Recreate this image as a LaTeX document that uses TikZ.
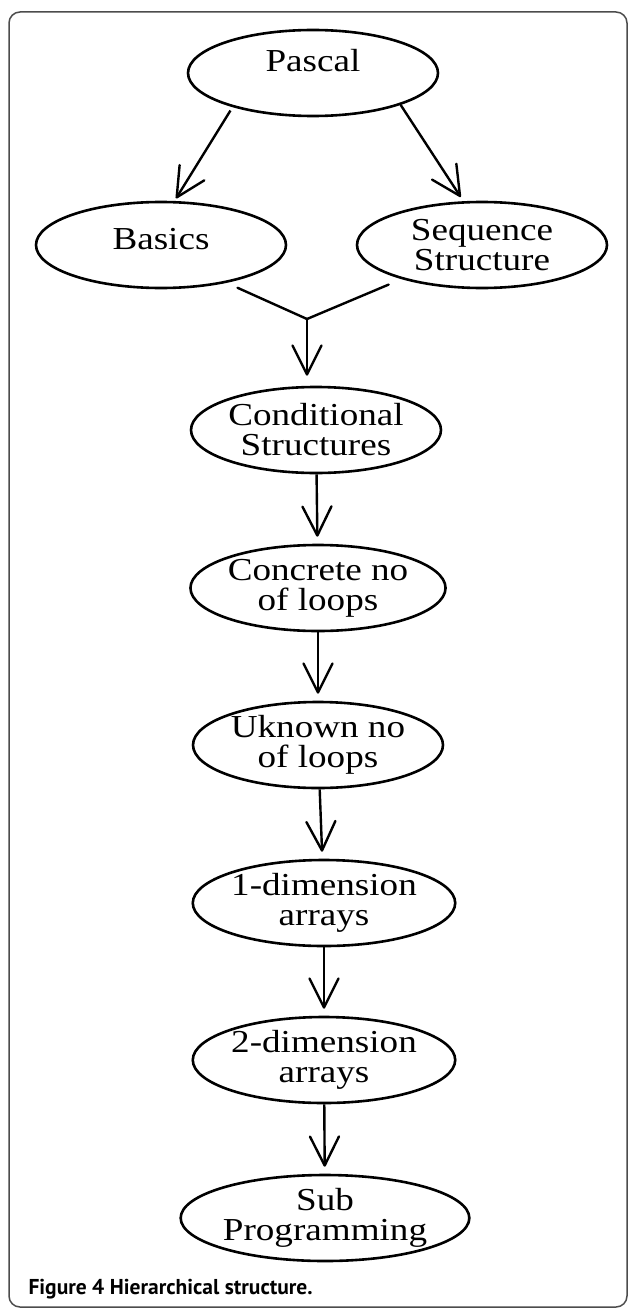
\documentclass[tikz,border=0pt]{standalone}
\usepackage{fontspec}
\usepackage{tikz}
\usetikzlibrary{arrows.meta,shapes.geometric}
\newfontfamily\ellfont[FakeStretch=1.16]{Liberation Serif}
\newfontfamily\capfont{PT Sans}
\tikzset{
  topic/.style ={ellipse, draw, line width=2.6pt, minimum width=250pt,
                 minimum height=86pt, inner sep=0pt, align=center,
                 font=\ellfont\fontsize{32}{30}\selectfont},
  flow/.style  ={-{Straight Barb[length=29pt,width=29pt,round]},
                 line width=2.4pt, shorten >=7pt},
  merge/.style ={line width=2.4pt, line cap=round, shorten <=12pt},
  frame/.style ={draw=black!70, line width=1.5pt, rounded corners=11pt},
}

\begin{document}
\begin{tikzpicture}[x=1pt,y=-1pt]
    \useasboundingbox (0,0) rectangle (629,1308);
    \draw[frame] (9,12) rectangle (627,1307);
    % top of the tree
    \node[topic, text depth=26pt] (pascal) at (313,73) {Pascal};
    \node[topic, text depth=12pt] (basics) at (161,245) {Basics};
    \node[topic] (seq) at (482,245) {Sequence\\Structure};
    % the chain
    \node[topic] (cond)     at (316,430)  {Conditional\\Structures};
    \node[topic] (concrete) at (318,588)  {Concrete no\\of loops};
    \node[topic] (unknown)  at (318,745)  {Uknown no\\of loops};
    \node[topic] (onedim)   at (324,903)  {1-dimension\\arrays};
    \node[topic] (twodim)   at (324,1060) {2-dimension\\arrays};
    \node[topic] (sub)      at (325,1218) {Sub\\Programming};
    \coordinate (join) at (307,319);
    % arrows
    \draw[flow, shorten >=3pt, shorten <=4pt] (pascal.203) -- (basics.73);
    \draw[flow, shorten >=5pt] (pascal.-20) -- (seq.113);
    \draw[merge] (basics.-30) -- (join);
    \draw[merge, shorten <=14pt] (seq.203) -- (join);
    \draw[flow, shorten >=10pt] (join) -- (join |- cond.north);
    \foreach \a/\b in {cond/concrete,concrete/unknown,unknown/onedim,
                       onedim/twodim,twodim/sub}
        \draw[flow] (\a) -- (\b);
    \node[anchor=base west, font=\capfont\bfseries\fontsize{21.5}{26}\selectfont]
        (caption) at (25,1294) {Figure 4 Hierarchical structure.};
\end{tikzpicture}
\end{document}
